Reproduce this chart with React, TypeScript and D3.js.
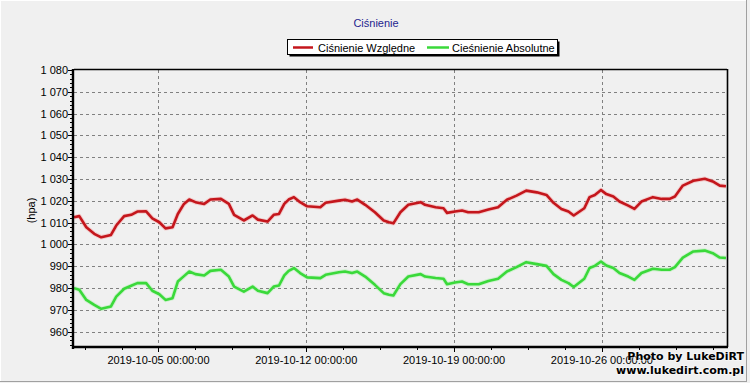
import React from "react";
import * as d3 from "d3";

const W = 750;
const H = 383;

// hours since 2019-10-01 00:00
const hours = [
  0, 6, 14, 23, 31, 42, 48, 57, 65, 72, 82, 89, 97, 104, 112, 118, 125, 131, 138, 148,
  155, 167, 176, 182, 193, 203, 209, 220, 227, 233, 239, 244, 250, 257, 265, 280, 286, 301, 308, 316,
  322, 331, 342, 352, 358, 363, 371, 380, 394, 399, 411, 420, 424, 433, 441, 448, 460, 471, 482, 492,
  503, 514, 526, 537, 545, 554, 562, 568, 580, 586, 592, 599, 605, 613, 620, 630, 637, 645, 658, 668,
  677, 683, 692, 704, 717, 726, 734, 741,
];

const relative = [
  1012.5, 1013, 1007.9, 1004.9, 1003.3, 1004.4, 1008.7, 1013, 1013.6, 1015.1, 1015.2, 1012, 1010.2, 1007.4, 1007.9, 1014, 1018.6, 1020.6, 1019.4, 1018.6,
  1020.6, 1020.9, 1018.6, 1013.6, 1011, 1013.3, 1011.4, 1010.5, 1013.6, 1014, 1018.6, 1020.6, 1021.7, 1019.4, 1017.5, 1017.1, 1019.1, 1020.1, 1020.5, 1019.7,
  1020.6, 1018.2, 1014.8, 1011, 1010.2, 1009.7, 1014.8, 1018.2, 1019.4, 1018.2, 1017.1, 1016.6, 1014.5, 1015.1, 1015.6, 1014.8, 1014.8, 1016, 1017.1, 1020.5,
  1022.4, 1024.7, 1023.9, 1022.7, 1019.1, 1016.3, 1015.1, 1013.3, 1016.6, 1021.7, 1022.7, 1025, 1023.1, 1022, 1019.7, 1017.8, 1016.3, 1019.7, 1021.7, 1020.9,
  1020.9, 1022, 1027, 1029.2, 1030.1, 1028.9, 1027, 1026.7,
];

const absolute = [
  980, 979.2, 974.6, 972.3, 970.5, 971.6, 976.1, 979.7, 981.1, 982.3, 982.3, 978.8, 977.2, 974.6, 975.4, 983, 985.5, 987.6, 986.4, 985.8,
  987.9, 988.4, 985.3, 980.7, 978.4, 980.7, 978.8, 977.7, 980.7, 981.2, 985.8, 987.9, 989.2, 986.9, 984.9, 984.6, 986.1, 987.3, 987.6, 986.9,
  987.6, 985.3, 981.5, 977.7, 977, 976.6, 981.8, 985.3, 986.4, 985.3, 984.6, 984.3, 981.8, 982.6, 983, 981.8, 981.8, 983.3, 984.3, 987.6,
  989.6, 991.9, 991, 990.2, 986.4, 983.8, 982.3, 980.5, 984.3, 989.2, 990.2, 992.2, 990.4, 989.2, 986.9, 985.3, 983.8, 986.9, 988.9, 988.4,
  988.4, 989.6, 994, 996.8, 997.2, 996, 994, 993.8,
];

const yTicks = [960, 970, 980, 990, 1000, 1010, 1020, 1030, 1040, 1050, 1060, 1070, 1080];
const xTickDates = ["2019-10-05", "2019-10-12", "2019-10-19", "2019-10-26"];

const seriesNames = ["Ciśnienie Względne", "Cieśnienie Absolutne"];
const seriesColors = ["#c4161c", "#3ad93a"];
const haloColors = ["#f4a0a0", "#a6f0a6"];

const start = new Date(2019, 9, 1, 0, 0, 0);
const end = new Date(start.getTime() + 742.2 * 3600e3);

const M = { left: 74, right: 727, top: 70, bottom: 347 };

export default function App() {
  const x = d3.scaleTime().domain([start, end]).range([M.left, M.right]);
  const y = d3.scaleLinear().domain([953, 1080]).range([M.bottom, M.top]);
  const toDate = (h: number) => new Date(start.getTime() + h * 3600e3);
  const parse = d3.timeParse("%Y-%m-%d");
  const fmtX = d3.timeFormat("%Y-%m-%d %H:%M:%S");
  const fmtY = d3.formatLocale({ decimal: ",", thousands: " ", grouping: [3], currency: ["", ""] }).format(",");

  const line = d3
    .line<number>()
    .x((_, i) => x(toDate(hours[i])))
    .y((v) => y(v));

  const majorDates = xTickDates.map((s) => parse(s) as Date);
  const minorDates: Date[] = [];
  for (let t = new Date(2019, 9, 1, 12).getTime(); t <= end.getTime(); t += 42 * 3600e3) {
    minorDates.push(new Date(t));
  }
  const yMinor = d3.range(954, 1081, 2);

  const font = "'Liberation Sans', Arial, sans-serif";
  const series = [relative, absolute];

  return (
    <svg width={W} height={H} style={{ position: "absolute", left: 0, top: 0 }} fontFamily={font}>
      <rect x={0} y={0} width={W} height={H} fill="#f0f0f0" />
      <line x1={0} y1={0.5} x2={747} y2={0.5} stroke="#ffffff" />
      <line x1={0.5} y1={0} x2={0.5} y2={382} stroke="#ffffff" />
      <line x1={746.5} y1={0} x2={746.5} y2={382} stroke="#a0a0a0" />
      <line x1={0} y1={381.5} x2={747} y2={381.5} stroke="#a0a0a0" />

      <text x={376} y={27} textAnchor="middle" fontSize={11} fill="#1f1f8f">
        Ciśnienie
      </text>

      {/* legend */}
      <rect x={289.5} y={41.5} width={270} height={15} fill="#000" />
      <rect x={287.5} y={39.5} width={270} height={15} fill="#ffffff" stroke="#000" />
      <line x1={293} x2={313} y1={47.5} y2={47.5} stroke={seriesColors[0]} strokeWidth={2.5} />
      <text x={318} y={51.5} fontSize={11} fill="#000">
        {seriesNames[0]}
      </text>
      <line x1={427} x2={449} y1={47.5} y2={47.5} stroke={seriesColors[1]} strokeWidth={2.5} />
      <text x={452} y={51.5} fontSize={11} fill="#000">
        {seriesNames[1]}
      </text>

      {/* grid */}
      {yTicks
        .filter((v) => v < 1080)
        .map((v) => (
          <line key={"gy" + v} x1={M.left} x2={M.right} y1={Math.round(y(v)) + 0.5} y2={Math.round(y(v)) + 0.5} stroke="#808080" strokeDasharray="3,3" />
        ))}
      {majorDates.map((d, i) => (
        <line key={"gx" + i} x1={Math.round(x(d)) + 0.5} x2={Math.round(x(d)) + 0.5} y1={M.top} y2={M.bottom} stroke="#808080" strokeDasharray="3,3" />
      ))}

      {/* series */}
      {series.map((vals, si) => (
        <g key={"s" + si}>
          <path d={line(vals) || ""} fill="none" stroke={haloColors[si]} strokeWidth={4.5} strokeOpacity={0.45} strokeLinejoin="round" />
          <path d={line(vals) || ""} fill="none" stroke={seriesColors[si]} strokeWidth={2.6} strokeLinejoin="round" />
        </g>
      ))}

      {/* frame */}
      <line x1={M.left} x2={M.right} y1={M.top - 0.5} y2={M.top - 0.5} stroke="#000" strokeWidth={1.3} />
      <line x1={M.right + 0.5} x2={M.right + 0.5} y1={M.top - 1} y2={M.bottom} stroke="#000" strokeWidth={1.6} />
      <line x1={M.left - 1} x2={M.left - 1} y1={M.top - 1} y2={M.bottom + 2} stroke="#000" strokeWidth={2.4} />
      <line x1={M.left - 2} x2={M.right + 1} y1={M.bottom} y2={M.bottom} stroke="#000" strokeWidth={2.4} />

      {/* y ticks */}
      {yMinor.map((v) => (
        <line key={"ym" + v} x1={M.left - 4} x2={M.left - 2} y1={Math.round(y(v)) + 0.5} y2={Math.round(y(v)) + 0.5} stroke="#000" />
      ))}
      {yTicks.map((v) => (
        <g key={"yt" + v}>
          <line x1={M.left - 6} x2={M.left - 2} y1={Math.round(y(v)) + 0.5} y2={Math.round(y(v)) + 0.5} stroke="#000" />
          <text x={68} y={y(v) + 4} textAnchor="end" fontSize={11} fill="#000">
            {fmtY(v)}
          </text>
        </g>
      ))}
      <text transform={`translate(35,${(M.top + M.bottom) / 2 + 2}) rotate(-90)`} textAnchor="middle" fontSize={11} fill="#000">
        (hpa)
      </text>

      {/* x ticks */}
      {minorDates.map((d, i) => (
        <line key={"xm" + i} x1={Math.round(x(d)) + 0.5} x2={Math.round(x(d)) + 0.5} y1={M.bottom + 1} y2={M.bottom + 3} stroke="#000" />
      ))}
      {majorDates.map((d, i) => (
        <g key={"xt" + i}>
          <line x1={Math.round(x(d)) + 0.5} x2={Math.round(x(d)) + 0.5} y1={M.bottom + 1} y2={M.bottom + 5} stroke="#000" />
          <text x={x(d)} y={364} textAnchor="middle" fontSize={11} fill="#000">
            {fmtX(d)}
          </text>
        </g>
      ))}

      {/* watermark */}
      <g fontFamily="'DejaVu Sans', Verdana, sans-serif" fontWeight="bold" fontSize={11} textAnchor="end">
        <text x={744} y={360} fill="#000" stroke="#ffffff" strokeWidth={1.5} strokeOpacity={0.5} paintOrder="stroke">
          Photo by LukeDiRT
        </text>
        <text x={744} y={374} fill="#000" stroke="#ffffff" strokeWidth={1.5} strokeOpacity={0.5} paintOrder="stroke">
          www.lukedirt.com.pl
        </text>
      </g>
    </svg>
  );
}
